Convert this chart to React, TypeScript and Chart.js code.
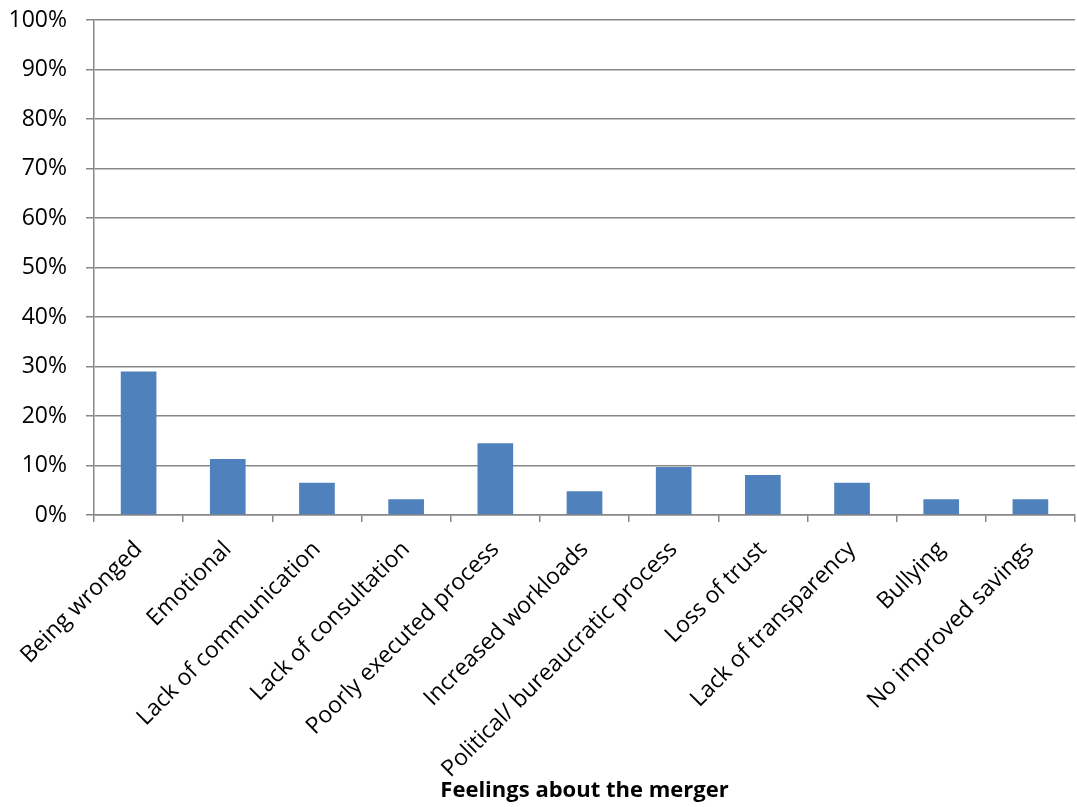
import React, { useEffect, useRef } from "react";
import { Chart, registerables } from "chart.js";

Chart.register(...registerables);

const categories: string[] = [
  "Being wronged",
  "Emotional",
  "Lack of communication",
  "Lack of consultation",
  "Poorly executed process",
  "Increased workloads",
  "Political/ bureaucratic process",
  "Loss of trust",
  "Lack of transparency",
  "Bullying",
  "No improved savings",
];

// Share of respondents (%) mentioning each feeling
const shares: number[] = [29.0, 11.3, 6.5, 3.2, 14.5, 4.8, 9.7, 8.1, 6.5, 3.2, 3.2];

const axisTitle = "Feelings about the merger";
const yMin = 0;
const yMax = 100;
const yStep = 10;

const FONT = "'Open Sans', 'DejaVu Sans', sans-serif";
const GRID = "#878787";
const BAR = "#4F81BD";

// Fixed box sizes for the axes so the plot area sits where intended
const Y_AXIS_WIDTH = 94;
const Y_TOP_PAD = 20;
const X_AXIS_HEIGHT = 289;

export default function App() {
  const canvasRef = useRef<HTMLCanvasElement | null>(null);

  useEffect(() => {
    document.body.style.margin = "0";
    const canvas = canvasRef.current;
    if (!canvas) return;
    const chart = new Chart(canvas, {
      type: "bar",
      data: {
        labels: categories,
        datasets: [
          {
            data: shares,
            backgroundColor: BAR,
            borderWidth: 0,
            categoryPercentage: 1,
            barPercentage: 0.4,
          },
        ],
      },
      options: {
        animation: false,
        responsive: false,
        maintainAspectRatio: false,
        layout: { padding: { left: 0, right: 2, top: 0, bottom: 3 } },
        plugins: {
          legend: { display: false },
          tooltip: { enabled: false },
        },
        scales: {
          x: {
            afterFit: (scale: any) => {
              scale.height = X_AXIS_HEIGHT;
              scale.paddingLeft = 0;
            },
            grid: {
              offset: true,
              drawOnChartArea: false,
              drawTicks: true,
              tickLength: 7,
              color: GRID,
              lineWidth: 1.5,
            },
            border: { color: GRID, width: 1.5 },
            ticks: {
              minRotation: 45,
              maxRotation: 45,
              autoSkip: false,
              padding: 14,
              color: "#000",
              font: { family: FONT, size: 23 },
            },
            title: {
              display: true,
              text: axisTitle,
              color: "#000",
              font: { family: FONT, size: 22, weight: "bold" },
              padding: { top: 0, bottom: 0 },
            },
          },
          y: {
            min: yMin,
            max: yMax,
            afterFit: (scale: any) => {
              scale.width = Y_AXIS_WIDTH;
              scale.paddingTop = Y_TOP_PAD;
            },
            grid: {
              color: GRID,
              lineWidth: 1.5,
              tickLength: 8,
            },
            border: { color: GRID, width: 1.5 },
            ticks: {
              stepSize: yStep,
              padding: 19,
              color: "#000",
              font: { family: FONT, size: 23 },
              callback: (v) => `${v}%`,
            },
          },
        },
      },
    });
    return () => chart.destroy();
  }, []);

  return (
    <div style={{ position: "absolute", left: 0, top: 0, width: 1077, height: 807 }}>
      <canvas ref={canvasRef} width={1077} height={807} />
    </div>
  );
}
